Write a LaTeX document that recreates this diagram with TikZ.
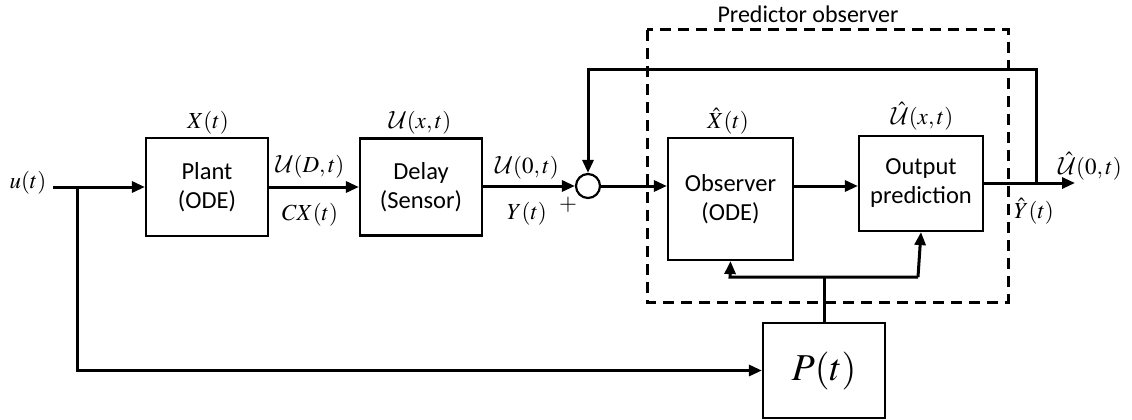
\documentclass[tikz,border=0pt]{standalone}
\usepackage{mathptmx}
\DeclareMathAlphabet{\mathcal}{OMS}{cmsy}{m}{n}
\usepackage[no-math]{fontspec}
\setmainfont{Carlito}
\usetikzlibrary{arrows.meta}
\tikzset{
  blk/.style={draw, line width=2.2pt, rectangle, inner sep=0pt, align=center, font=\fontsize{24.5}{29}\selectfont},
  conn/.style={line width=3pt},
  arr/.style={conn, -{Triangle[length=13pt,width=11pt]}},
  lbl/.style={inner sep=0pt, font=\fontsize{23}{27}\selectfont},
  dashbox/.style={draw, line width=3pt, dash pattern=on 11pt off 7pt}
}
\begin{document}
\begin{tikzpicture}[x=1pt,y=-1pt]
\useasboundingbox (0,0) rectangle (1132,420);
% blocks
\node[blk, minimum width=122pt, minimum height=98pt] (plant) at (207,187) {Plant\\(ODE)};
\node[blk, minimum width=122pt, minimum height=97pt] (delay) at (421,187) {Delay\\(Sensor)};
\node[draw, circle, line width=2.2pt, minimum size=24pt, inner sep=0pt] (sum) at (588,186) {};
\node[blk, minimum width=125pt, minimum height=122pt] (obs) at (730.5,199) {Observer\\(ODE)};
\node[blk, minimum width=124pt, minimum height=95pt] (outp) at (921,183.5) {Output\\prediction};
\node[blk, minimum width=122pt, minimum height=95pt, font=\fontsize{38}{40}\selectfont] (P) at (824,370.5) {$P(t)$};
% dashed predictor observer box
\draw[dashbox] (647,30) rectangle (1008,302);
\node[lbl, font=\fontsize{24}{28}\selectfont] (potitle) at (808,14) {Predictor observer};
% coordinates
\coordinate (uin) at (53,187);
\coordinate (br) at (77,187);
\coordinate (tap) at (1036,183);
\coordinate (out) at (1075,183);
\coordinate (fbtop) at (1036,70);
\coordinate (split) at (824,277);
\coordinate (splitL) at (730,277);
\coordinate (splitR) at (918,277);
% connectors
\draw[arr] (uin) -- (plant.west);
\draw[arr] (br) |- (P.west);
\draw[arr] (plant.east) -- (delay.west);
\draw[arr] (delay.east |- sum) -- (sum.west);
\draw[arr] (sum.east) -- (obs.west |- sum);
\draw[arr] (obs.east |- sum) -- (outp.west |- sum);
\draw[arr] (outp.east |- out) -- (out);
\draw[arr] (tap) -- (fbtop) -| (sum.north);
\draw[conn] (P.north) -- (split);
\draw[arr] (splitR) -- (splitL) -- (obs.south);
\draw[arr] (splitR) -- (outp.south);
% labels
\node[lbl] (lu) at (28,183) {$u(t)$};
\node[lbl] (lx) at (208,123) {$X(t)$};
\node[lbl] (luD) at (310,167) {$\mathcal{U}(D,t)$};
\node[lbl] (lcx) at (310,215) {$CX(t)$};
\node[lbl] (lux) at (420,123) {$\mathcal{U}(x,t)$};
\node[lbl] (lu0) at (527,168) {$\mathcal{U}(0,t)$};
\node[lbl] (ly) at (527,214) {$Y(t)$};
\node[lbl] (lplus) at (568,205) {$+$};
\node[lbl] (lxh) at (728,121) {$\hat{X}(t)$};
\node[lbl] (luxh) at (922,116) {$\hat{\mathcal{U}}(x,t)$};
\node[lbl] (lu0h) at (1090,166) {$\hat{\mathcal{U}}(0,t)$};
\node[lbl] (lyh) at (1034,211) {$\hat{Y}(t)$};
\end{tikzpicture}
\end{document}
